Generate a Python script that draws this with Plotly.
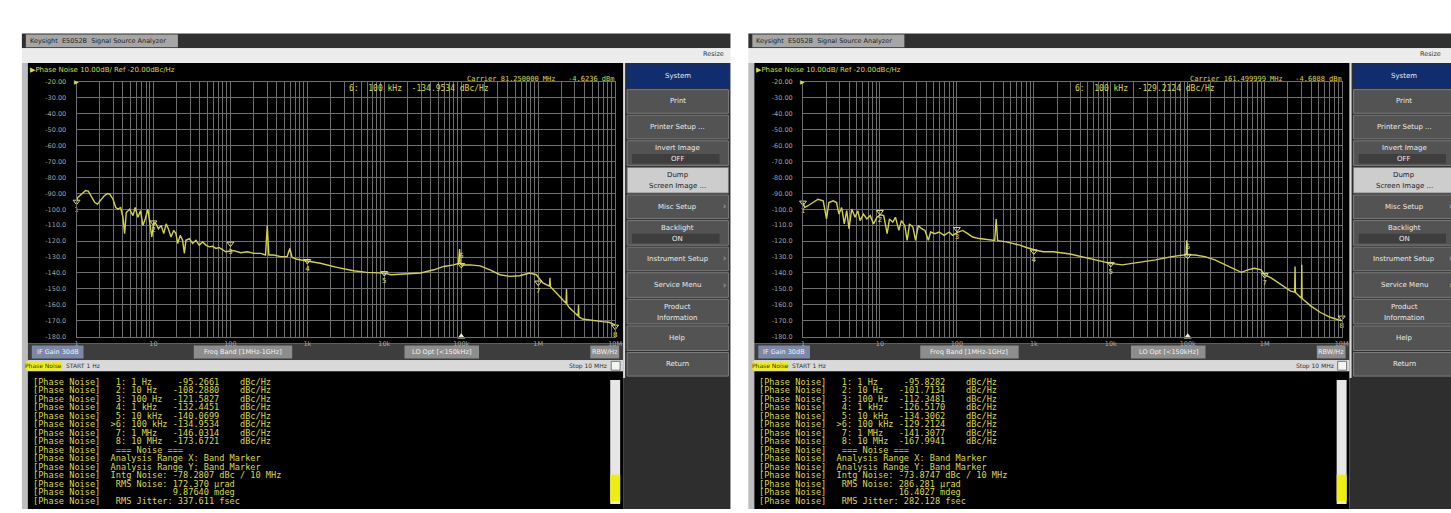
import plotly.graph_objects as go

W, H = 1451, 513

# ---------------- data ----------------
L_FREQ = [1.0, 1.03, 1.16, 1.31, 1.42, 1.56, 1.73, 1.87, 2.07, 2.28, 2.52, 2.72, 2.98, 3.23,
          3.46, 3.74, 4.01, 4.22, 4.43, 4.90, 5.41, 5.79, 6.27, 6.79, 7.28, 7.80, 8.45, 8.87,
          9.51, 10.1, 10.8, 11.6, 12.6, 13.6, 14.6, 15.6, 16.9, 18.3, 19.6, 20.6, 22.3, 23.9,
          25.2, 26.4, 29.2, 32.3, 35.6, 39.3, 43.5, 48.0, 53.0, 58.5, 64.6, 71.3, 78.8, 87.0,
          101, 111, 136, 166, 202, 247, 286, 301, 316, 367, 448, 546, 591, 634, 735, 897, 991,
          1094, 1472, 2420, 3970, 5910, 8790, 10000, 12200, 18100, 29700, 44000, 59300, 79700,
          92000, 95000, 97000, 102000, 131000, 176000, 236000, 318000, 427000, 575000, 773000,
          942000, 1150000, 1400000, 1420000, 1440000, 1710000, 2080000, 2300000, 2330000,
          2360000, 2530000, 3080000, 3300000, 3340000, 3380000, 3760000, 5060000, 6810000,
          8280000, 10000000]
L_PN = [-95.3, -92.7, -90.6, -88.2, -88.6, -91.7, -95.8, -96.8, -94.3, -91.7, -90.2, -90.6,
        -93.7, -98.9, -99.9, -98.9, -105.0, -115.3, -102.0, -99.9, -104.0, -98.9, -105.0,
        -100.9, -110.2, -106.1, -99.9, -107.1, -117.4, -108.3, -109.2, -112.2, -110.2, -115.3,
        -109.2, -112.2, -117.4, -113.3, -115.3, -121.5, -116.4, -119.5, -127.7, -119.5, -118.4,
        -121.5, -119.5, -122.5, -120.5, -122.5, -123.6, -123.2, -124.6, -124.0, -125.6, -126.7,
        -126.2, -126.0, -127.3, -126.7, -127.7, -127.7, -128.7, -110.2, -128.7, -128.7, -129.7,
        -129.7, -124.6, -130.2, -131.4, -132.2, -132.4, -132.8, -133.9, -136.5, -138.6, -139.6,
        -140.0, -140.1, -141.1, -140.6, -140.0, -138.0, -135.9, -134.9, -134.0, -125.0, -134.3,
        -134.95, -134.9, -135.5, -138.0, -141.1, -142.1, -141.7, -140.0, -141.1, -146.2, -148.3,
        -143.0, -148.6, -152.4, -156.5, -159.0, -150.0, -159.5, -161.7, -165.8, -167.0, -160.0,
        -167.5, -168.9, -169.9, -170.5, -170.9, -172.5]

R_FREQ = [1.0, 1.05, 1.16, 1.35, 1.57, 1.83, 2.02, 2.17, 2.47, 2.73, 2.93, 3.18, 3.44, 3.70,
          3.96, 4.30, 4.75, 5.15, 5.52, 6.11, 6.76, 7.47, 8.26, 9.14, 10.1, 11.2, 12.4, 13.3,
          14.7, 15.9, 17.6, 19.0, 21.0, 22.6, 24.2, 26.8, 29.0, 31.5, 34.8, 38.5, 42.6, 45.6,
          52.0, 58.7, 68.3, 79.4, 87.8, 102, 119, 138, 160, 196, 240, 293, 310, 324, 338, 439,
          536, 656, 801, 1030, 1325, 1790, 2960, 4900, 6620, 9900, 14100, 23200, 38000, 62200,
          83700, 95000, 97000, 99000, 124000, 167000, 225000, 303000, 407000, 496000, 604000,
          736000, 897000, 991000, 1210000, 1620000, 2180000, 2450000, 2480000, 2510000, 2940000,
          3000000, 3030000, 3060000, 3960000, 5310000, 7140000, 9620000, 10000000]
R_PN = [-95.8, -98.9, -97.8, -95.8, -93.7, -94.7, -106.1, -95.8, -94.7, -95.8, -103.0, -98.9,
        -109.2, -100.9, -112.2, -99.9, -105.0, -100.9, -107.1, -103.0, -106.1, -104.0, -109.2,
        -105.0, -103.5, -104.0, -115.3, -106.1, -108.1, -105.0, -113.3, -107.1, -110.2, -119.5,
        -109.2, -111.2, -119.5, -110.2, -112.2, -113.3, -119.5, -114.3, -115.3, -114.3, -116.4,
        -114.3, -116.4, -114.5, -113.3, -115.3, -117.4, -118.4, -119.0, -119.5, -119.6, -106.1,
        -119.7, -120.5, -121.5, -122.5, -124.0, -125.6, -126.7, -126.7, -128.1, -130.5, -132.0,
        -134.0, -134.9, -133.5, -131.8, -129.7, -128.7, -128.5, -119.5, -128.6, -128.7, -129.7,
        -131.8, -134.9, -138.0, -139.6, -138.0, -137.0, -138.0, -141.1, -143.1, -147.3, -151.4,
        -152.0, -135.9, -152.2, -155.5, -155.8, -134.9, -156.0, -160.6, -164.8, -167.8, -169.9,
        -170.0]

MK_FREQ = [1, 10, 100, 1e3, 1e4, 1e5, 1e6, 1e7]
MK_NAME = ["1 Hz", "10 Hz", "100 Hz", "1 kHz", "10 kHz", "100 kHz", "1 MHz", "10 MHz"]
L_MK = [-95.2661, -108.2880, -121.5827, -132.4451, -140.0699, -134.9534, -146.0314, -173.6721]
R_MK = [-95.8282, -101.7134, -112.3481, -126.5170, -134.3062, -129.2124, -141.3077, -167.9941]
ACTIVE_MK = 6

L_CARRIER, L_POWER = "81.250000 MHz", "-4.6236 dBm"
R_CARRIER, R_POWER = "161.499999 MHz", "-4.6088 dBm"
L_NOISE = ["-78.2807", "172.370", "9.87640", "337.611"]
R_NOISE = ["-73.8747", "286.281", "16.4027", "282.128"]

Y_TICKS = [-20, -30, -40, -50, -60, -70, -80, -90, -100, -110, -120, -130, -140, -150, -160,
           -170, -180]
X_DECADES = [1, 10, 100, 1e3, 1e4, 1e5, 1e6, 1e7]
X_DECADE_TEXT = ["1", "10", "100", "1k", "10k", "100k", "1M", "10M"]

MENU = ["System", "Print", "Printer Setup ...", "Invert Image|OFF", "Dump|Screen Image ...",
        "Misc Setup", "Backlight|ON", "Instrument Setup", "Service Menu",
        "Product|Information", "Help", "Return"]
STATUS = ["IF Gain 30dB", "Freq Band [1MHz-1GHz]", "LO Opt [<150kHz]", "RBW/Hz"]

# ---------------- helpers ----------------
shapes, annos = [], []
NB = "\u00a0"
MONO = "DejaVu Sans Mono"
SANS = "DejaVu Sans"


def rect(x0, y0, x1, y1, fill, line=None, lw=0):
    shapes.append(dict(type="rect", xref="paper", yref="paper",
                       x0=x0 / W, x1=x1 / W, y0=1 - y1 / H, y1=1 - y0 / H,
                       fillcolor=fill, line=dict(width=lw, color=line or fill),
                       layer="below"))


def text(x, y, s, size=7, color="#e0e0e0", xa="left", fam=SANS):
    annos.append(dict(xref="paper", yref="paper", x=x / W, y=1 - y / H,
                      text=s.replace(" ", NB), showarrow=False, xanchor=xa,
                      yanchor="middle", borderpad=0,
                      font=dict(size=size, color=color, family=fam)))


GRID = "#6e6e6e"
YEL = "#d8d84c"
XT, XTT = [], []
for d, lab in zip(X_DECADES[:-1], X_DECADE_TEXT[:-1]):
    for m in range(1, 10):
        XT.append(d * m)
        XTT.append(lab if m == 1 else "")
XT.append(X_DECADES[-1])
XTT.append(X_DECADE_TEXT[-1])
YTT = [("<span style='color:#b8b850'>%.2f</span>" % v) if v == -20 else
       (("%.2f" % v) if abs(v) < 100 else ("%.1f" % v)) for v in Y_TICKS]

fig = go.Figure()


def panel(ox, idx, freq, pn, mk, carrier, power, noise):
    # window chrome
    rect(ox, 30, ox + 713, 45, "#303030")
    rect(ox + 4, 31, ox + 157, 44, "#a6a6a6")
    text(ox + 7, 37.5, "Keysight  E5052B  Signal Source Analyzer", 6.5, "#1e1e1e")
    rect(ox, 45, ox + 713, 60, "#ececec")
    text(min(ox + 708, W - 2), 51, "Resize", 6.5, "#333333", "right")
    rect(ox, 60, ox + 6, 513, "#bdbdbd")
    rect(ox + 6, 60, ox + 605, 345, "#000000")
    text(ox + 7, 67, "\u25B6Phase Noise 10.00dB/ Ref -20.00dBc/Hz", 7, YEL)
    text(ox + 51, 79, "\u25B6", 6, YEL)
    text(ox + 598, 76, "Carrier %s   %s" % (carrier, power), 7, YEL, "right", MONO)
    text(ox + 328, 86, "%d:  %s  %.4f dBc/Hz" % (ACTIVE_MK, MK_NAME[ACTIVE_MK - 1],
                                                mk[ACTIVE_MK - 1]), 8, YEL, "left", MONO)
    # status bar
    rect(ox + 6, 345, ox + 605, 362, "#3d3d3d")
    boxes = [(10, 62, "#7c88a8"), (173, 272, "#8d8d8d"), (385, 460, "#8d8d8d"),
             (572, 601, "#8d8d8d")]
    for (a, b, c), s in zip(boxes, STATUS):
        rect(ox + a, 347, ox + b, 360, c)
        text(ox + (a + b) / 2, 353.5, s, 6.5, "#f4f4f4", "center")
    rect(ox + 6, 362, ox + 605, 373, "#d9d9d9")
    rect(ox + 4, 363, ox + 40, 372, "#eeee10")
    text(ox + 22, 367.5, "Phase Noise", 6, "#333333", "center")
    text(ox + 43, 367.5, "START 1 Hz", 6, "#333333")
    text(ox + 590, 367.5, "Stop 10 MHz", 6, "#333333", "right")
    rect(ox + 593, 363, ox + 602, 372, "#f4f4f4", "#777777", 1)
    # table
    rect(ox + 6, 373, ox + 605, 513, "#000000")
    rect(ox + 592, 382, ox + 602, 508, "#e6e6e6")
    rect(ox + 592, 478, ox + 602, 505, "#eeee10")
    lines = []
    for i in range(8):
        n = i + 1
        pre = ">" if n == ACTIVE_MK else " "
        lines.append("[Phase Noise]  %s%d: %-8s%9.4f    dBc/Hz" % (pre, n, MK_NAME[i], mk[i]))
    lines += ["[Phase Noise]   === Noise ===",
              "[Phase Noise]  Analysis Range X: Band Marker",
              "[Phase Noise]  Analysis Range Y: Band Marker",
              "[Phase Noise]  Intg Noise: %s dBc / 10 MHz" % noise[0],
              "[Phase Noise]   RMS Noise: %s \u00b5rad" % noise[1],
              "[Phase Noise]              %s mdeg" % noise[2],
              "[Phase Noise]   RMS Jitter: %s fsec" % noise[3]]
    for i, s in enumerate(lines):
        text(ox + 10, 384 + i * 8.6, s, 8.6, YEL, "left", MONO)
    # right menu
    rect(ox + 605, 60, ox + 713, 513, "#2e2e2e")
    rect(ox + 605, 60, ox + 607, 380, "#dcdcdc")
    bounds = [60, 86, 112, 138, 165, 193, 219, 246, 272, 299, 326, 353, 379]
    cx = ox + 660
    for i, lab in enumerate(MENU):
        y0, y1 = bounds[i] + 1, bounds[i + 1] - 1
        fill = "#102d6e" if i == 0 else ("#cdcdcd" if i == 4 else "#535353")
        tcol = "#222222" if i == 4 else "#ececec"
        rect(ox + 609, y0, ox + 711, y1, fill, "#7c7c7c" if i else "#102d6e", 1)
        parts = lab.split("|")
        mid = (y0 + y1) / 2
        if len(parts) == 1:
            text(cx, mid, parts[0], 7, tcol, "center")
        else:
            if parts[1] in ("OFF", "ON"):
                rect(ox + 614, mid + 1, ox + 702, y1 - 2, "#3e3e3e")
            text(cx, mid - 5, parts[0], 7, tcol, "center")
            text(cx, mid + 6, parts[1], 7, tcol, "center")
        if lab in ("Misc Setup", "Instrument Setup", "Service Menu"):
            text(ox + 707, mid, "\u203a", 8, "#bbbbbb", "center")

    # plot axes
    xname = "x" if idx == 1 else "x%d" % idx
    yname = "y" if idx == 1 else "y%d" % idx
    gx0, gx1 = ox + 55, ox + 597
    axx = dict(type="log", range=[0, 7], domain=[gx0 / W, gx1 / W], anchor=yname,
               tickvals=XT, ticktext=XTT, showgrid=True, gridcolor=GRID, gridwidth=1,
               zeroline=False, showline=True, linecolor=GRID, mirror=True, ticks="",
               tickfont=dict(size=6.5, color="#a8a8a8", family=SANS), fixedrange=True)
    axy = dict(range=[-180, -20], domain=[1 - 338 / H, 1 - 79 / H], anchor=xname,
               tickvals=Y_TICKS, ticktext=YTT, showgrid=True, gridcolor=GRID, gridwidth=1,
               zeroline=False, showline=True, linecolor=GRID, mirror=True, ticks="",
               ticklabelstandoff=8,
               tickfont=dict(size=6.5, color="#a0a0a0", family=SANS), fixedrange=True)
    fig.update_layout(**{("xaxis" if idx == 1 else "xaxis%d" % idx): axx,
                         ("yaxis" if idx == 1 else "yaxis%d" % idx): axy})
    fig.add_trace(go.Scatter(x=freq, y=pn, mode="lines", xaxis=xname, yaxis=yname,
                             line=dict(color="#d2d24a", width=1.4), hoverinfo="skip",
                             showlegend=False))
    pos = ["top center" if i + 1 == ACTIVE_MK else "bottom center" for i in range(8)]
    fig.add_trace(go.Scatter(x=MK_FREQ, y=mk, mode="markers+text", xaxis=xname, yaxis=yname,
                             marker=dict(symbol="triangle-down-open", size=6, color="#e2e27a",
                                         line=dict(width=1, color="#e2e27a")),
                             text=[str(i + 1) for i in range(8)], textposition=pos,
                             textfont=dict(size=7, color="#e2e27a", family=SANS),
                             cliponaxis=False, hoverinfo="skip", showlegend=False))
    fig.add_trace(go.Scatter(x=[MK_FREQ[ACTIVE_MK - 1]], y=[Y_TICKS[-1]], mode="markers",
                             xaxis=xname, yaxis=yname,
                             marker=dict(symbol="triangle-up", size=7, color="#f2f2c8"),
                             cliponaxis=False, hoverinfo="skip", showlegend=False))


panel(20, 1, L_FREQ, L_PN, L_MK, L_CARRIER, L_POWER, L_NOISE)
panel(751, 2, R_FREQ, R_PN, R_MK, R_CARRIER, R_POWER, R_NOISE)

fig.update_layout(width=W, height=H, margin=dict(l=0, r=0, t=0, b=0),
                  paper_bgcolor="#ffffff", plot_bgcolor="#000000",
                  shapes=shapes, annotations=annos, showlegend=False)
fig.write_html("out.html", config={"displayModeBar": False},
               post_script="document.body.style.margin='0px';"
                           "document.body.style.overflow='hidden';")
